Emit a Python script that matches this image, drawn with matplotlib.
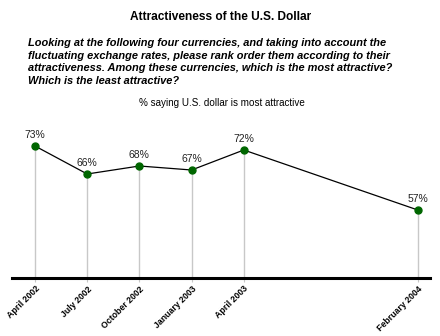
import matplotlib
matplotlib.use("Agg")
import matplotlib.pyplot as plt

plt.rcParams['font.family'] = ['Liberation Sans', 'DejaVu Sans']

# survey waves, months since April 2002
months = [0, 3, 6, 9, 12, 22]
labels = ['April 2002', 'July 2002', 'October 2002', 'January 2003',
          'April 2003', 'February 2004']
values = [73, 66, 68, 67, 72, 57]

fig = plt.figure(figsize=(4.4, 3.36), dpi=100)
ax = fig.add_axes([12 / 440, 58 / 336, 418 / 440, 152 / 336])

ax.vlines(months, 40, values, color='#c8c8c8', lw=1, zorder=1)
ax.plot(months, values, color='black', lw=0.9, zorder=2)
ax.plot(months, values, 'o', color='#006600', ms=5, zorder=3)
for m, v in zip(months, values):
    ax.annotate('%d%%' % v, (m, v), xytext=(0, 4), textcoords='offset points',
                ha='center', va='bottom', fontsize=7.5, color='#222222')

ax.set_xlim(-1.32, 22.7)
ax.set_ylim(40, 78)
for s in ['top', 'right', 'left']:
    ax.spines[s].set_visible(False)
ax.spines['bottom'].set_linewidth(2.2)
ax.set_yticks([])
ax.set_xticks(months)
ax.set_xticklabels(labels, rotation=45, ha='right', rotation_mode='anchor',
                   fontsize=6.3, fontweight='bold')
ax.tick_params(axis='x', length=3, color='#c8c8c8', pad=1.5)

fig.text(0.502, 1 - 17 / 336, 'Attractiveness of the U.S. Dollar',
         ha='center', va='center', fontsize=8.6, fontweight='bold')
fig.text(28 / 440, 1 - 38 / 336,
         'Looking at the following four currencies, and taking into account the\n'
         'fluctuating exchange rates, please rank order them according to their\n'
         'attractiveness. Among these currencies, which is the most attractive?\n'
         'Which is the least attractive?',
         ha='left', va='top', fontsize=7.9, fontweight='bold', style='italic',
         linespacing=1.33)
fig.text(0.505, 1 - 103 / 336, '% saying U.S. dollar is most attractive',
         ha='center', va='center', fontsize=7.1)

fig.savefig('out.png', dpi=100)
